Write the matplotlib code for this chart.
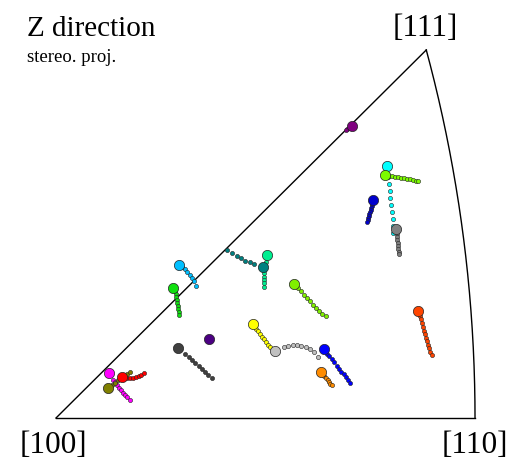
import numpy as np
import matplotlib
matplotlib.use("Agg")
import matplotlib.pyplot as plt

# ---- data: stereographic coordinates (first point = large marker, rest = path) ----
purple_x = [0.2929, 0.2911, 0.2896, 0.2881, 0.2867]
purple_y = [0.2907, 0.2894, 0.2884, 0.2874, 0.2864]

cyan_x = [0.3275, 0.3285, 0.3289, 0.3299, 0.3305, 0.3314, 0.3321, 0.3328, 0.3331, 0.3334]
cyan_y = [0.2509, 0.2397, 0.2327, 0.2258, 0.2188, 0.2115, 0.2046, 0.1976, 0.1909, 0.1840]

lawn_x = [0.3252, 0.3292, 0.3321, 0.3351, 0.3381, 0.3410, 0.3440, 0.3470, 0.3499, 0.3529, 0.3559, 0.3578]
lawn_y = [0.2417, 0.2407, 0.2402, 0.2397, 0.2392, 0.2387, 0.2382, 0.2377, 0.2372, 0.2367, 0.2362, 0.2357]

mblue_x = [0.3137, 0.3132, 0.3127, 0.3121, 0.3116, 0.3110, 0.3104, 0.3099, 0.3094, 0.3088, 0.3082, 0.3077]
mblue_y = [0.2168, 0.2148, 0.2128, 0.2108, 0.2088, 0.2069, 0.2049, 0.2029, 0.2009, 0.1989, 0.1969, 0.1954]

gray_x = [0.3364, 0.3366, 0.3369, 0.3371, 0.3374, 0.3377, 0.3380, 0.3383, 0.3386, 0.3388]
gray_y = [0.1883, 0.1860, 0.1830, 0.1800, 0.1770, 0.1740, 0.1711, 0.1681, 0.1651, 0.1631]

dsky_x = [0.1219, 0.1250, 0.1275, 0.1298, 0.1325, 0.1347, 0.1364, 0.1384]
dsky_y = [0.1522, 0.1502, 0.1479, 0.1452, 0.1422, 0.1389, 0.1359, 0.1316]

lime_x = [0.1160, 0.1176, 0.1186, 0.1191, 0.1196, 0.1201, 0.1206, 0.1209, 0.1212, 0.1216]
lime_y = [0.1290, 0.1263, 0.1233, 0.1203, 0.1174, 0.1144, 0.1114, 0.1084, 0.1054, 0.1024]

teal_x = [0.2043, 0.1960, 0.1918, 0.1871, 0.1829, 0.1786, 0.1737, 0.1687]
teal_y = [0.1505, 0.1532, 0.1548, 0.1564, 0.1588, 0.1611, 0.1638, 0.1671]

spring_x = [0.2089, 0.2071, 0.2061, 0.2056, 0.2056, 0.2056, 0.2056, 0.2056, 0.2056]
spring_y = [0.1621, 0.1551, 0.1512, 0.1472, 0.1439, 0.1407, 0.1372, 0.1340, 0.1306]

magenta_x = [0.0527, 0.0566, 0.0586, 0.0603, 0.0623, 0.0643, 0.0662, 0.0682, 0.0702, 0.0731]
magenta_y = [0.0451, 0.0378, 0.0355, 0.0328, 0.0301, 0.0275, 0.0249, 0.0226, 0.0206, 0.0184]

red_x = [0.0655, 0.0702, 0.0731, 0.0761, 0.0791, 0.0820, 0.0845, 0.0870]
red_y = [0.0411, 0.0398, 0.0393, 0.0395, 0.0403, 0.0415, 0.0431, 0.0451]

olive_x = [0.0511, 0.0554, 0.0583, 0.0613, 0.0643, 0.0672, 0.0702, 0.0731]
olive_y = [0.0295, 0.0328, 0.0353, 0.0378, 0.0398, 0.0418, 0.0438, 0.0454]

dgray_x = [0.1209, 0.1275, 0.1310, 0.1344, 0.1377, 0.1411, 0.1443, 0.1476, 0.1507, 0.1539]
dgray_y = [0.0693, 0.0636, 0.0607, 0.0574, 0.0544, 0.0514, 0.0484, 0.0454, 0.0428, 0.0401]

indigo_x = [0.1512]
indigo_y = [0.0786]

chart_x = [0.2353, 0.2392, 0.2422, 0.2451, 0.2481, 0.2511, 0.2540, 0.2570, 0.2600, 0.2629, 0.2669]
chart_y = [0.1330, 0.1293, 0.1263, 0.1228, 0.1193, 0.1161, 0.1127, 0.1094, 0.1061, 0.1037, 0.1014]

yellow_x = [0.1944, 0.1977, 0.1997, 0.2017, 0.2036, 0.2056, 0.2076, 0.2096, 0.2115]
yellow_y = [0.0935, 0.0890, 0.0865, 0.0835, 0.0809, 0.0783, 0.0756, 0.0731, 0.0709]

silver_x = [0.2168, 0.2257, 0.2298, 0.2340, 0.2382, 0.2422, 0.2468, 0.2511, 0.2553, 0.2593]
silver_y = [0.0666, 0.0703, 0.0716, 0.0723, 0.0723, 0.0716, 0.0703, 0.0683, 0.0653, 0.0610]

blue_x = [0.2649, 0.2679, 0.2703, 0.2726, 0.2750, 0.2774, 0.2797, 0.2821, 0.2845, 0.2869, 0.2890, 0.2911]
blue_y = [0.0683, 0.0641, 0.0612, 0.0582, 0.0552, 0.0522, 0.0492, 0.0462, 0.0433, 0.0403, 0.0376, 0.0348]

orange_x = [0.2620, 0.2639, 0.2654, 0.2669, 0.2684, 0.2699, 0.2713, 0.2725]
orange_y = [0.0460, 0.0438, 0.0418, 0.0398, 0.0378, 0.0358, 0.0341, 0.0328]

ored_x = [0.3581, 0.3598, 0.3608, 0.3618, 0.3628, 0.3638, 0.3648, 0.3657, 0.3667, 0.3677, 0.3687, 0.3702, 0.3714]
ored_y = [0.1067, 0.1014, 0.0980, 0.0945, 0.0905, 0.0870, 0.0835, 0.0799, 0.0763, 0.0726, 0.0693, 0.0656, 0.0627]

colors = ['#800080', '#00FFFF', '#7CFC00', '#0000CD', '#808080', '#00BFFF',
          '#10E010', '#008080', '#00EE90', '#FF00FF', '#FF0000', '#808000',
          '#404040', '#4B0082', '#80F000', '#FFFF00', '#C0C0C0', '#0000FF',
          '#FF8C00', '#FF4500']

corner_labels = ['[100]', '[110]', '[111]']
title = 'Z direction'
subtitle = 'stereo. proj.'

tracks = [(purple_x, purple_y), (cyan_x, cyan_y), (lawn_x, lawn_y), (mblue_x, mblue_y),
          (gray_x, gray_y), (dsky_x, dsky_y), (lime_x, lime_y), (teal_x, teal_y),
          (spring_x, spring_y), (magenta_x, magenta_y), (red_x, red_y), (olive_x, olive_y),
          (dgray_x, dgray_y), (indigo_x, indigo_y), (chart_x, chart_y), (yellow_x, yellow_y),
          (silver_x, silver_y), (blue_x, blue_y), (orange_x, orange_y), (ored_x, ored_y)]

# ---- figure ----
fig = plt.figure(figsize=(5.31, 4.61), dpi=100)
ax = fig.add_axes([0, 0, 1, 1])
ax.axis('off')
ax.set_xlim(-0.05536, 0.46955)
ax.set_ylim(-0.04276, 0.41571)

# fundamental triangle
x110 = np.sqrt(2) - 1
x111 = 1 / (np.sqrt(3) + 1)
t = np.linspace(0, 1, 200)
arc_x = 1 / (np.sqrt(2 + t**2) + 1)
arc_y = t / (np.sqrt(2 + t**2) + 1)
ax.plot([0, x110], [0, 0], color='black', lw=1.0, zorder=1)
ax.plot([0, x111], [0, x111], color='black', lw=1.0, zorder=1)
ax.plot(arc_x, arc_y, color='black', lw=1.0, zorder=1)

# small path markers
for (xs, ys), c in zip(tracks, colors):
    if len(xs) > 1:
        ax.plot(xs[1:], ys[1:], linestyle='none', marker='o', ms=3.0,
                mfc=c, mec='#222222', mew=0.4, zorder=2)
# large start markers
for (xs, ys), c in zip(tracks, colors):
    ax.plot(xs[:1], ys[:1], linestyle='none', marker='o', ms=7.4,
            mfc=c, mec='#222222', mew=0.5, zorder=3)

serif = ['Liberation Serif', 'DejaVu Serif']
ax.text(-0.003, -0.0345, corner_labels[0], ha='center', va='baseline', fontsize=22.5, family=serif)
ax.text(x110, -0.0345, corner_labels[1], ha='center', va='baseline', fontsize=22.5, family=serif)
ax.text(x111 - 0.001, 0.380, corner_labels[2], ha='center', va='baseline', fontsize=22.5, family=serif)

fig.text(27 / 531, 1 - 35.7 / 461, title, ha='left', va='baseline', fontsize=21, family=serif)
fig.text(27 / 531, 1 - 62 / 461, subtitle, ha='left', va='baseline', fontsize=13.5, family=serif)

fig.savefig('out.png', dpi=100, facecolor='white')
